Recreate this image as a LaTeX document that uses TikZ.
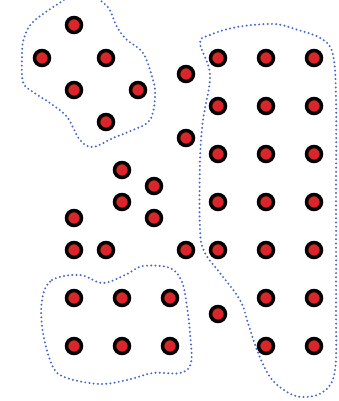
\documentclass[tikz,border=0pt]{standalone}
\usepackage{tikz}
\definecolor{dotred}{RGB}{218,38,42}
\definecolor{hullblue}{RGB}{72,104,204}
\tikzset{
    pt/.style={circle, draw=black, line width=3pt, fill=dotred, inner sep=0pt, minimum size=0.45cm},
    hull/.style={hullblue, line width=1.9pt, line cap=round, dash pattern=on 0pt off 3.6pt}
}

\begin{document}
\begin{tikzpicture}[x=0.03cm, y=-0.03cm]
    \useasboundingbox (0,0) rectangle (338,401);
    \clip (0,0) rectangle (338,401);
    % outlines of the groups
    \draw[hull] plot[smooth cycle, tension=0.6] coordinates {(58,4) (33,22) (24,38) (22,55) (23,82) (33,92) (50,103) (67,117) (80,140) (93,147) (113,138) (133,130) (150,120) (155,97) (153,80) (143,53) (127,40) (117,27) (106,5) (80,-8)};
    \draw[hull] plot[smooth cycle, tension=0.6] coordinates {(200,43) (210,35) (237,27) (273,24) (295,29) (322,39) (333,55) (336,100) (336,200) (336,300) (335,370) (323,392) (303,397) (287,392) (270,377) (257,350) (248,323) (240,300) (220,273) (205,253) (200,230) (200,160) (203,120) (210,75)};
    \draw[hull] plot[smooth cycle, tension=0.6] coordinates {(42,300) (52,280) (80,275) (103,283) (127,274) (143,266) (170,268) (182,282) (187,307) (190,333) (191,363) (180,373) (153,373) (127,380) (100,384) (67,378) (53,367) (43,333)};
    % top left group
    \node[pt] (a1) at (74,25) {};
    \node[pt] (a2) at (42,58) {};
    \node[pt] (a3) at (106,58) {};
    \node[pt] (a4) at (74,90) {};
    \node[pt] (a5) at (138,90) {};
    \node[pt] (a6) at (106,122) {};
    % loose points
    \node[pt] (b1) at (186,74) {};
    \node[pt] (b2) at (186,138) {};
    \node[pt] (b3) at (122,170) {};
    \node[pt] (b4) at (154,186) {};
    \node[pt] (b5) at (122,202) {};
    \node[pt] (b6) at (154,218) {};
    \node[pt] (b7) at (74,218) {};
    \node[pt] (b8) at (74,250) {};
    \node[pt] (b9) at (106,250) {};
    \node[pt] (b10) at (186,250) {};
    \node[pt] (b11) at (218,314) {};
    % right group
    \foreach \x [count=\i] in {218,266,314}
        \foreach \y [count=\j] in {58,106,154,202,250}
            \node[pt] (r\i\j) at (\x,\y) {};
    \foreach \x [count=\i] in {266,314}
        \foreach \y [count=\j] in {298,346}
            \node[pt] (s\i\j) at (\x,\y) {};
    % bottom left group
    \foreach \x [count=\i] in {74,122,170}
        \foreach \y [count=\j] in {298,346}
            \node[pt] (c\i\j) at (\x,\y) {};
\end{tikzpicture}
\end{document}
